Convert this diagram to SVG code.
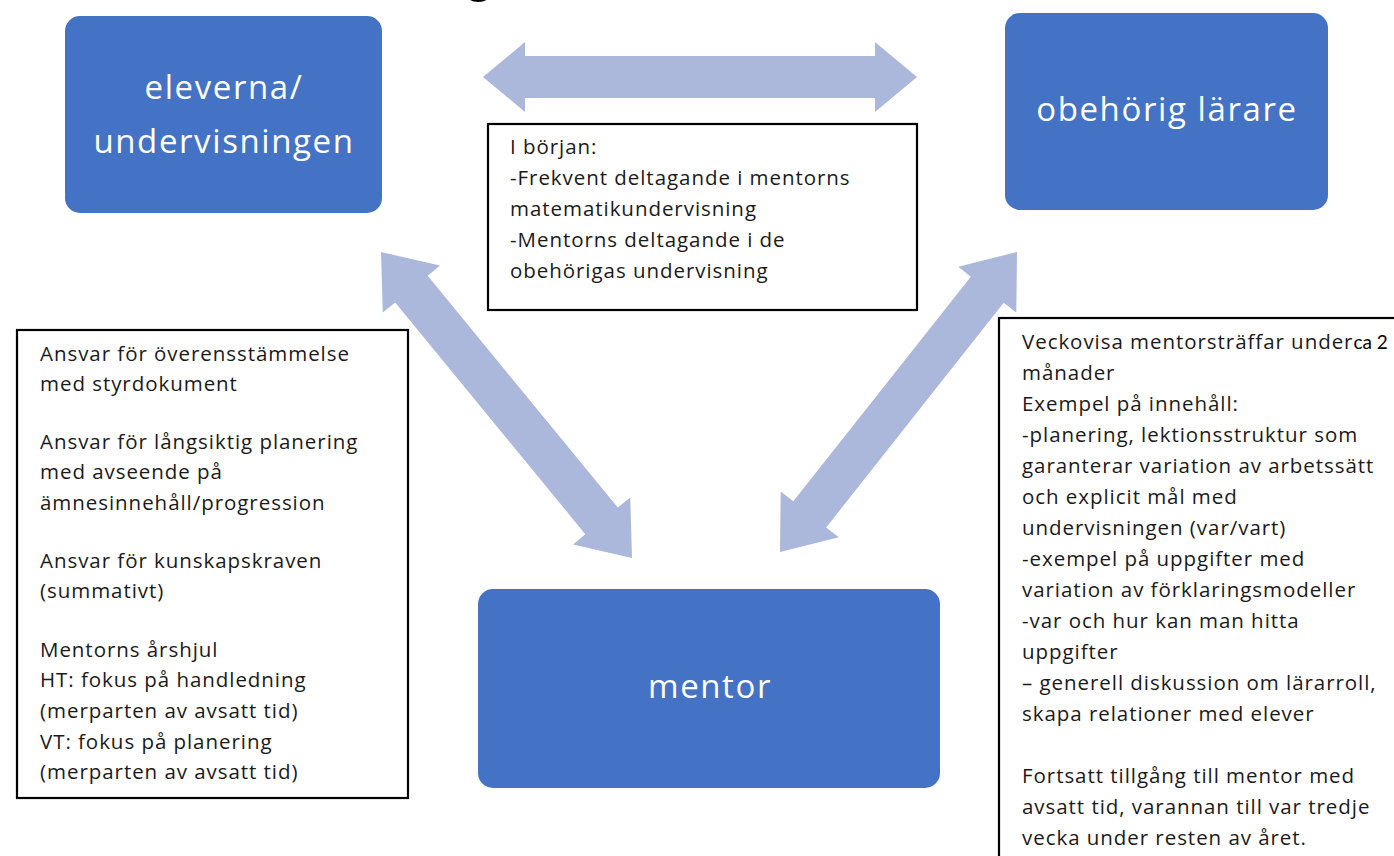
<svg xmlns="http://www.w3.org/2000/svg" width="1394" height="856" viewBox="0 0 1394 856">
<style>
.node{fill:#4472C4;}
.ntxt{font-family:"Open Sans","Liberation Sans",sans-serif;font-size:33px;fill:#ffffff;letter-spacing:1.6px;text-anchor:middle;}
.box{fill:#ffffff;stroke:#000000;stroke-width:2.2;}
.btxt{font-family:"Open Sans","Liberation Sans",sans-serif;font-size:20.5px;fill:#1a1a1a;letter-spacing:0.95px;}
.arrow{fill:#ABB8DC;}
</style>
<rect width="1394" height="856" fill="#ffffff"/>
<text x="479" y="-9" font-family="Liberation Sans, sans-serif" font-weight="bold" font-size="52" text-anchor="middle" fill="#000">g</text>

<g id="connectors">
  <polygon class="arrow" points="483,77 525,42 525,56 875,56 875,42 917,77 875,112 875,98 525,98 525,112"/>
  <polygon class="arrow" points="381,252 382.8,312.6 395.2,302.4 585.3,534.2 573,544.4 632,558 630.2,497.4 617.8,507.6 427.7,275.8 440,265.6"/>
  <polygon class="arrow" points="1017,252 1016.3,312.6 1003.7,302.7 826.2,527.4 838.8,537.3 780,552 780.7,491.4 793.3,501.3 970.8,276.7 958.2,266.7"/>
</g>

<g id="node-eleverna">
  <rect class="node" x="65" y="16" width="317" height="197" rx="15"/>
  <text class="ntxt" x="224" y="99">eleverna/</text>
  <text class="ntxt" x="224" y="153">undervisningen</text>
</g>

<g id="node-obehorig">
  <rect class="node" x="1005" y="13" width="323" height="197" rx="15"/>
  <text class="ntxt" x="1167" y="121">obehörig lärare</text>
</g>

<g id="node-mentor">
  <rect class="node" x="478" y="589" width="462" height="199" rx="15"/>
  <text class="ntxt" x="710" y="698">mentor</text>
</g>

<g id="note-borjan">
  <rect class="box" x="488" y="124" width="429" height="186"/>
  <text class="btxt" x="510" y="154">I början:</text>
  <text class="btxt" x="510" y="185">-Frekvent deltagande i mentorns</text>
  <text class="btxt" x="510" y="216">matematikundervisning</text>
  <text class="btxt" x="510" y="247">-Mentorns deltagande i de</text>
  <text class="btxt" x="510" y="278">obehörigas undervisning</text>
</g>

<g id="note-ansvar">
  <rect class="box" x="17" y="330" width="391" height="468"/>
  <text class="btxt" x="40" y="361">Ansvar för överensstämmelse</text>
  <text class="btxt" x="40" y="391">med styrdokument</text>
  <text class="btxt" x="40" y="449">Ansvar för långsiktig planering</text>
  <text class="btxt" x="40" y="479">med avseende på</text>
  <text class="btxt" x="40" y="510">ämnesinnehåll/progression</text>
  <text class="btxt" x="40" y="568">Ansvar för kunskapskraven</text>
  <text class="btxt" x="40" y="598">(summativt)</text>
  <text class="btxt" x="40" y="657">Mentorns årshjul</text>
  <text class="btxt" x="40" y="687">HT: fokus på handledning</text>
  <text class="btxt" x="40" y="718">(merparten av avsatt tid)</text>
  <text class="btxt" x="40" y="749">VT: fokus på planering</text>
  <text class="btxt" x="40" y="779">(merparten av avsatt tid)</text>
</g>

<g id="note-veckovisa">
  <rect class="box" x="999" y="318" width="420" height="560"/>
  <text class="btxt" x="1022" y="349">Veckovisa mentorsträffar under<tspan font-family="Lato, 'Liberation Sans', sans-serif" font-size="19" letter-spacing="0" fill="#000">ca 2</tspan></text>
  <text class="btxt" x="1022" y="380">månader</text>
  <text class="btxt" x="1022" y="411">Exempel på innehåll:</text>
  <text class="btxt" x="1022" y="442">-planering, lektionsstruktur som</text>
  <text class="btxt" x="1022" y="473">garanterar variation av arbetssätt</text>
  <text class="btxt" x="1022" y="504">och explicit mål med</text>
  <text class="btxt" x="1022" y="535">undervisningen (var/vart)</text>
  <text class="btxt" x="1022" y="566">-exempel på uppgifter med</text>
  <text class="btxt" x="1022" y="597">variation av förklaringsmodeller</text>
  <text class="btxt" x="1022" y="628">-var och hur kan man hitta</text>
  <text class="btxt" x="1022" y="659">uppgifter</text>
  <text class="btxt" x="1022" y="690">– generell diskussion om lärarroll,</text>
  <text class="btxt" x="1022" y="721">skapa relationer med elever</text>
  <text class="btxt" x="1022" y="783">Fortsatt tillgång till mentor med</text>
  <text class="btxt" x="1022" y="814">avsatt tid, varannan till var tredje</text>
  <text class="btxt" x="1022" y="845">vecka under resten av året.</text>
</g>
</svg>
